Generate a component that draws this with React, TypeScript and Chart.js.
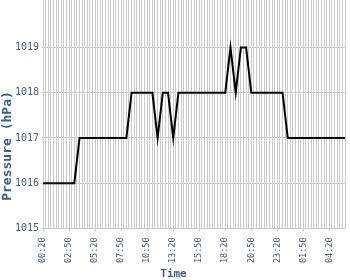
import React, { useEffect, useRef } from "react";
import { Chart, registerables } from "chart.js";

Chart.register(...registerables);

// ---- data ----
const tickLabels = ["00:20", "02:50", "05:20", "07:50", "10:50", "13:20", "15:50", "18:20", "20:50", "23:20", "01:50", "04:20"];
const labelEvery = 10;

const pressure = [
  1016, 1016, 1016, 1016, 1016, 1016, 1016, 1016, 1016, 1016, 1016, 1016, 1016,
  1016.5,
  1017, 1017, 1017, 1017, 1017, 1017, 1017, 1017, 1017, 1017, 1017, 1017, 1017, 1017, 1017, 1017, 1017, 1017, 1017,
  1017.5,
  1018, 1018, 1018, 1018, 1018, 1018, 1018, 1018, 1018,
  1017.5, 1017, 1017.5,
  1018, 1018, 1018,
  1017.5, 1017, 1017.5,
  1018, 1018, 1018, 1018, 1018, 1018, 1018, 1018, 1018, 1018, 1018, 1018, 1018, 1018, 1018, 1018, 1018, 1018, 1018,
  1018.5, 1019, 1018.5, 1018, 1018.5,
  1019, 1019, 1019,
  1018.5,
  1018, 1018, 1018, 1018, 1018, 1018, 1018, 1018, 1018, 1018, 1018, 1018, 1018,
  1017.5,
  1017, 1017, 1017, 1017, 1017, 1017, 1017, 1017, 1017, 1017, 1017, 1017, 1017, 1017, 1017, 1017, 1017, 1017, 1017, 1017, 1017, 1017, 1017,
];

const yMin = 1015;
const yMax = 1020.05;
const yLastTick = 1019;

const xTitle = "Time";
const yTitle = "Pressure (hPa)";

// ---- styles ----
const labelColor = "#3e5f85";
const gridColor = "#cacaca";
const monoFont = "'DejaVu Sans Mono', 'Liberation Mono', monospace";

const categories = pressure.map((_, i) => (i % labelEvery === 0 ? tickLabels[i / labelEvery] ?? "" : ""));

const titlePlugin = {
  id: "canvasAxisTitles",
  afterDraw(chart: any) {
    const ctx = chart.ctx as CanvasRenderingContext2D;
    ctx.save();
    ctx.fillStyle = labelColor;
    ctx.textAlign = "center";
    ctx.textBaseline = "alphabetic";
    ctx.font = `bold 11px ${monoFont}`;
    ctx.fillText(xTitle, chart.width / 2 - 1.5, chart.height - 3);
    ctx.translate(11, chart.height / 2 + 6);
    ctx.rotate(-Math.PI / 2);
    ctx.font = `bold 13px ${monoFont}`;
    ctx.fillText(yTitle, 0, 0);
    ctx.restore();
  },
};

export default function App() {
  const canvasRef = useRef<HTMLCanvasElement | null>(null);

  useEffect(() => {
    if (!canvasRef.current) return;
    const chart = new Chart(canvasRef.current, {
      type: "line",
      data: {
        labels: categories,
        datasets: [
          {
            data: pressure,
            borderColor: "#000000",
            borderWidth: 2,
            pointRadius: 0,
            tension: 0,
            fill: false,
          },
        ],
      },
      options: {
        animation: false,
        responsive: false,
        devicePixelRatio: 1,
        layout: { padding: { left: 13, right: 5, top: 0, bottom: 11 } },
        plugins: { legend: { display: false }, tooltip: { enabled: false } },
        scales: {
          x: {
            type: "category",
            offset: false,
            afterFit: (scale: any) => {
              scale.paddingLeft = 0;
              scale.paddingRight = 0;
            },
            border: { color: gridColor, width: 1 },
            grid: {
              color: gridColor,
              lineWidth: 1,
              tickLength: 3,
              tickColor: (c: any) => (c.tick && c.tick.label ? gridColor : "rgba(0,0,0,0)"),
            },
            ticks: {
              autoSkip: false,
              minRotation: 90,
              maxRotation: 90,
              padding: 6,
              color: labelColor,
              font: { family: monoFont, size: 8.5 },
            },
          },
          y: {
            type: "linear",
            min: yMin,
            max: yMax,
            afterBuildTicks: (scale: any) => {
              scale.ticks = scale.ticks.filter((t: any) => Number.isInteger(t.value) && t.value <= yLastTick);
            },
            afterFit: (scale: any) => {
              scale.paddingTop = 0;
              scale.paddingBottom = 0;
            },
            border: { color: gridColor, width: 1 },
            grid: { color: gridColor, lineWidth: 1, tickLength: 2, tickColor: gridColor },
            ticks: {
              stepSize: 1,
              padding: 2,
              color: labelColor,
              font: { family: monoFont, size: 10 },
              callback: (v: any) => String(v),
            },
          },
        },
      },
      plugins: [titlePlugin],
    });
    return () => chart.destroy();
  }, []);

  return (
    <div style={{ position: "fixed", left: 0, top: 0, width: 350, height: 280, background: "#ffffff" }}>
      <canvas ref={canvasRef} width={350} height={280} style={{ display: "block" }} />
    </div>
  );
}
